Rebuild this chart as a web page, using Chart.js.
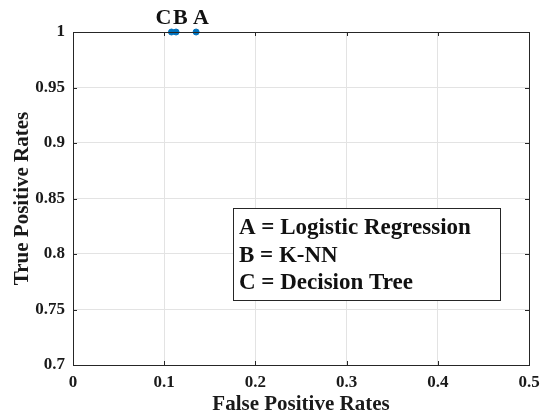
<!DOCTYPE html>
<html>
<head>
<meta charset="utf-8">
<script src="https://cdn.jsdelivr.net/npm/chart.js@4.4.0/dist/chart.umd.min.js"></script>
<style>
  html, body { margin: 0; padding: 0; background: #fff; }
  #wrap { width: 542px; height: 417px; }
</style>
</head>
<body>
<div id="wrap"><canvas id="rocChart" width="542" height="417"></canvas></div>
<script>
// classifier operating points
const pointLabels = ['A', 'B', 'C'];
const fprValues = [0.135, 0.113, 0.108];
const tprValues = [1, 1, 1];
const legendLines = ['A = Logistic Regression', 'B = K-NN', 'C = Decision Tree'];
const xTicks = [0, 0.1, 0.2, 0.3, 0.4, 0.5];
const yTicks = [0.7, 0.75, 0.8, 0.85, 0.9, 0.95, 1];

const serif = '"Liberation Serif", "Times New Roman", serif';

// box, inner tick marks, letter tags and the text legend
const matlabAxes = {
    id: 'matlabAxes',
    afterDatasetsDraw(chart) {
        const { ctx, chartArea: a, scales } = chart;
        ctx.save();
        ctx.strokeStyle = '#262626';
        ctx.lineWidth = 1;
        ctx.beginPath();
        xTicks.forEach(v => {
            const px = Math.round(scales.x.getPixelForValue(v)) + 0.5;
            ctx.moveTo(px, a.bottom); ctx.lineTo(px, a.bottom - 4);
            ctx.moveTo(px, a.top); ctx.lineTo(px, a.top + 4);
        });
        yTicks.forEach(v => {
            const py = Math.round(scales.y.getPixelForValue(v)) + 0.5;
            ctx.moveTo(a.left, py); ctx.lineTo(a.left + 4, py);
            ctx.moveTo(a.right, py); ctx.lineTo(a.right - 4, py);
        });
        ctx.stroke();
        ctx.strokeRect(Math.round(a.left) + 0.5, Math.round(a.top) + 0.5,
            Math.round(a.right - a.left), Math.round(a.bottom - a.top));

        // letters above each point
        ctx.fillStyle = '#111';
        ctx.font = 'bold 22px ' + serif;
        ctx.textBaseline = 'alphabetic';
        const meta = chart.getDatasetMeta(0);
        meta.data.forEach((pt, i) => {
            const lbl = pointLabels[i];
            if (lbl === 'C') {
                ctx.textAlign = 'right';
                ctx.fillText(lbl, pt.x, pt.y - 8);
            } else {
                ctx.textAlign = 'left';
                ctx.fillText(lbl, pt.x - 3, pt.y - 8);
            }
        });

        // legend box
        const bx = 233.5, by = 208.5, bw = 267, bh = 92;
        ctx.fillStyle = '#fff';
        ctx.fillRect(bx, by, bw, bh);
        ctx.strokeStyle = '#262626';
        ctx.strokeRect(bx, by, bw, bh);
        ctx.fillStyle = '#111';
        ctx.font = 'bold 23px ' + serif;
        ctx.textAlign = 'left';
        legendLines.forEach((t, i) => {
            ctx.fillText(t, 239, 234 + i * 27.5);
        });
        ctx.restore();
    }
};

const ctx = document.getElementById('rocChart').getContext('2d');
new Chart(ctx, {
    type: 'scatter',
    data: {
        datasets: [{
            data: fprValues.map((x, i) => ({ x: x, y: tprValues[i] })),
            backgroundColor: '#0072BD',
            borderColor: '#0072BD',
            pointRadius: 3,
            pointHoverRadius: 3,
            clip: false
        }]
    },
    options: {
        responsive: false,
        animation: false,
        layout: { padding: { top: 32, right: 13, left: 0, bottom: 0 } },
        plugins: {
            legend: { display: false },
            tooltip: { enabled: false }
        },
        scales: {
            x: {
                type: 'linear',
                min: 0,
                max: 0.5,
                afterBuildTicks: s => { s.ticks = xTicks.map(v => ({ value: v })); },
                afterFit: s => {
                    s.height = 52;
                    s.paddingLeft = 0;
                    s.paddingRight = 0;
                },
                grid: { color: '#e3e3e3', drawTicks: false },
                border: { display: false },
                ticks: {
                    color: '#1a1a1a',
                    padding: 7,
                    maxRotation: 0,
                    font: { family: serif, size: 17, weight: 'bold' },
                    callback: v => String(+v.toFixed(2))
                },
                title: {
                    display: true,
                    text: 'False Positive Rates',
                    color: '#1a1a1a',
                    padding: { top: 0, bottom: 0 },
                    font: { family: serif, size: 21, weight: 'bold' }
                }
            },
            y: {
                type: 'linear',
                min: 0.7,
                max: 1,
                afterBuildTicks: s => { s.ticks = yTicks.map(v => ({ value: v })); },
                afterFit: s => {
                    s.width = 73;
                    s.paddingTop = 0;
                    s.paddingBottom = 0;
                },
                grid: { color: '#e3e3e3', drawTicks: false },
                border: { display: false },
                ticks: {
                    color: '#1a1a1a',
                    padding: 8,
                    font: { family: serif, size: 17, weight: 'bold' },
                    callback: v => String(+v.toFixed(2))
                },
                title: {
                    display: true,
                    text: 'True Positive Rates',
                    color: '#1a1a1a',
                    padding: { top: 10, bottom: 0 },
                    font: { family: serif, size: 21, weight: 'bold' }
                }
            }
        }
    },
    plugins: [matlabAxes]
});
</script>
</body>
</html>
